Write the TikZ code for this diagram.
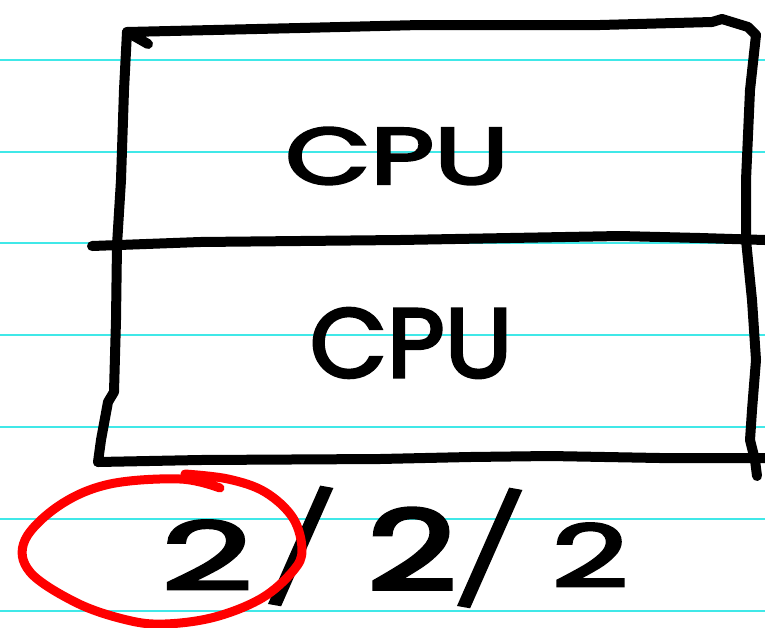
\documentclass[tikz,border=0pt]{standalone}
\usepackage{fontspec}
\setmainfont{Poppins}
\newfontfamily\handfont[FakeBold=3]{Poppins}
\newfontfamily\heavyfont[FakeBold=4]{Poppins}
\definecolor{rule}{RGB}{64,232,232}
\definecolor{ink}{RGB}{0,0,0}
\definecolor{pen}{RGB}{255,0,0}
\tikzset{
  ruled/.style={draw=rule,line width=2pt},
  marker/.style={draw=ink,line width=10pt,line cap=round,line join=round},
  redpen/.style={draw=pen,line width=9pt,line cap=round,line join=round},
  hand/.style={inner sep=0pt,text=ink}
}
\begin{document}
\begin{tikzpicture}[x=1pt,y=-1pt]
\useasboundingbox (0,0) rectangle (765,627);
\fill[white] (0,0) rectangle (765,627);
% ruled lines
\foreach \yy in {60,152,243,335,427,519,611}
  \draw[ruled] (0,\yy) -- (765,\yy);
% box
\draw[marker] (148,44) -- (127,32) -- (300,28) -- (420,25) -- (600,25) -- (712,22) -- (722,19) -- (748,27) -- (756,35)
  -- (750,90) -- (746,180) -- (746,240) -- (752,300) -- (756,360) -- (752,410) -- (750,440) -- (755,460) -- (757,476);
\draw[marker] (127,32) -- (124,90) -- (121,180) -- (117,245) -- (116,320) -- (114,392) -- (108,402) -- (101,440) -- (98,462);
\draw[marker] (92,246) -- (200,242) -- (400,240) -- (620,236) -- (700,238) -- (765,240);
\draw[marker] (98,462) -- (200,460) -- (380,459) -- (470,457) -- (550,456) -- (660,458) -- (765,458);
% labels
\node[hand,font=\handfont\fontsize{80}{80}\selectfont,xscale=1.38] (cpu1) at (397,156) {CPU};
\node[hand,font=\handfont\fontsize{98}{98}\selectfont,xscale=1.02] (cpu2) at (411,343) {CPU};
% bottom text
\node[hand,font=\handfont\fontsize{94}{94}\selectfont,xscale=1.7] (two1) at (207,555) {2};
\node[hand,font=\handfont\fontsize{110}{110}\selectfont,rotate=-10] (sl1) at (301,546) {/};
\node[hand,font=\heavyfont\fontsize{110}{110}\selectfont,xscale=1.4] (two2) at (412,549) {2};
\node[hand,font=\handfont\fontsize{110}{110}\selectfont,rotate=-10] (sl2) at (490,548) {/};
\node[hand,font=\handfont\fontsize{86}{86}\selectfont,xscale=1.55] (two3) at (590,555) {2};
% red circle
\draw[redpen] plot[smooth,tension=0.6] coordinates {(220,488) (180,479) (110,484) (60,505) (25,540) (30,572) (77,603) (127,620) (165,624) (215,617) (262,598) (293,571) (302,550) (293,518) (265,492) (228,479) (185,474)};
\end{tikzpicture}
\end{document}
